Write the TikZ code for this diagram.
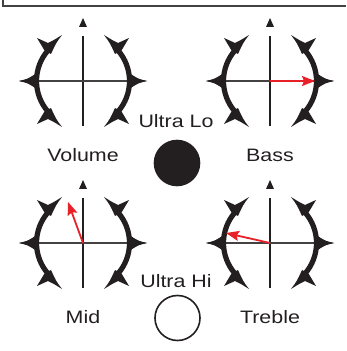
\documentclass[tikz,border=0pt]{standalone}
\usepackage{fontspec}
\setmainfont{Liberation Sans}
\usetikzlibrary{arrows.meta}
\definecolor{knobred}{RGB}{232,32,40}
\definecolor{ink}{RGB}{35,31,32}
\tikzset{
    >=Stealth,
    panel/.style={
        x=1pt,y=1pt,
        frame/.append style={draw=ink!85,line width=2.2pt},
        dial/.append style={draw=ink,line width=5.2pt},
        dialtick/.append style={fill=ink,draw=none},
        axis/.append style={draw=ink,line width=1.8pt},
        crossbar/.append style={draw=ink!85,line width=1.5pt},
        pointer/.append style={draw=knobred,line width=1.8pt,-{Stealth[length=13pt,width=10pt,inset=2pt]}},
        caption/.append style={text=ink,inner sep=0pt,font=\fontsize{18}{20}\selectfont\addfontfeature{FakeStretch=1.19}},
        jewel/.append style={circle,draw=ink,line width=1.6pt,minimum size=45pt,inner sep=0pt}
    }
}

\begin{document}
\begin{tikzpicture}[panel]
    \useasboundingbox (0,0) rectangle (346,351);
    \draw[frame] (3,351) |- (346,345);
    \foreach \k/\x/\y in {vol/83/270,bass/270/270,mid/83/108,treble/270/108}{
        \coordinate (\k) at (\x,\y);
        \draw[axis] ([yshift=45pt]\k) -- ([yshift=-45pt]\k);
        \draw[crossbar] ([xshift=-45pt]\k) -- ([xshift=45pt]\k);
        \draw[dial] ([shift={(138:46.5)}]\k) arc[start angle=138,end angle=222,radius=46.5pt];
        \draw[dial] ([shift={(42:46.5)}]\k) arc[start angle=42,end angle=-42,radius=46.5pt];
        \fill[dialtick] ([shift={(-4,54)}]\k) -- ([shift={(0,63)}]\k) -- ([shift={(4,54)}]\k) -- cycle;
        \foreach \sx/\sy in {1/1,1/-1,-1/1,-1/-1}{
            \fill[dialtick,shift={(\k)},xscale=\sx,yscale=\sy]
                (-38.5,30.5) -- (-46,43) .. controls (-41,40) .. (-35,38)
                .. controls (-29,41) .. (-21,46) .. controls (-27,38) .. (-32,27) -- cycle;
            \fill[dialtick,shift={(\k)},xscale=\sx]
                (-64,0) .. controls (-55,2) .. (-46,8) -- (-46,-8) .. controls (-55,-2) .. cycle;
        }
    }
    \coordinate (bass tip) at ([shift={(45,0)}]bass);
    \coordinate (mid tip) at ([shift={(-15,41)}]mid);
    \coordinate (treble tip) at ([shift={(-44,10)}]treble);
    \draw[pointer] (bass) -- (bass tip);
    \draw[pointer] (mid) -- (mid tip);
    \draw[pointer] (treble) -- (treble tip);
    \node[caption] (vol name) at (83,196) {Volume};
    \node[caption] (bass name) at (270,196) {Bass};
    \node[caption] (mid name) at (83,34) {Mid};
    \node[caption] (treble name) at (270,34) {Treble};
    \node[caption] (lo name) at (176,230) {Ultra Lo};
    \node[caption] (hi name) at (176,70) {Ultra Hi};
    \node[jewel,fill=ink] (lo switch) at (177,188) {};
    \node[jewel] (hi switch) at (177.5,33) {};
\end{tikzpicture}
\end{document}
